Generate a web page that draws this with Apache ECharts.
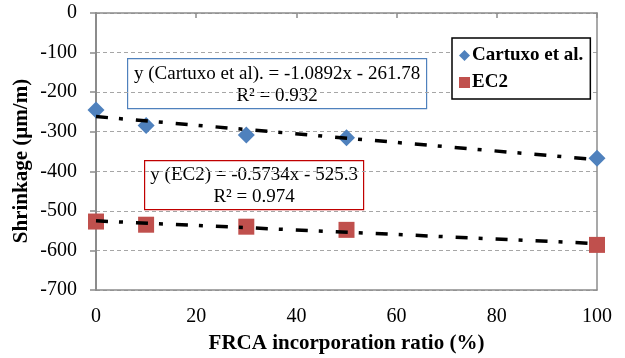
<!DOCTYPE html>
<html>
<head>
<meta charset="utf-8">
<script src="https://cdn.jsdelivr.net/npm/echarts@6/dist/echarts.min.js"></script>
<style>
  html, body { margin: 0; padding: 0; background: #fff; }
  #chart { width: 625px; height: 358px; }
</style>
</head>
<body>
<div id="chart"></div>
<script>
// FRCA incorporation ratio (%)
const ratios = [0, 10, 30, 50, 100];
// Shrinkage (µm/m) per model
const cartuxo = [-245, -284, -308, -315, -367];
const ec2 = [-527, -535, -540, -548, -586];
// Linear fits: [slope, intercept, R²]
const fitCartuxo = [-1.0892, -261.78, 0.932];
const fitEC2 = [-0.5734, -525.3, 0.974];
const xTicks = [0, 20, 40, 60, 80, 100];
const yTicks = [0, -100, -200, -300, -400, -500, -600, -700];

const serif = 'Liberation Serif';
const grey = '#8c8c8c';

function fitLine(fit) {
  const xs = [ratios[0], ratios[ratios.length - 1]];
  return xs.map(x => [x, fit[0] * x + fit[1]]);
}
function eqText(label, fit) {
  const b = fit[1] < 0 ? ' - ' + Math.abs(fit[1]) : ' + ' + fit[1];
  return label + ' = ' + fit[0] + 'x' + b;
}

const trendStyle = {
  color: '#000',
  width: 3.5,
  type: [12, 11, 4, 13],
  cap: 'butt'
};

const chart = echarts.init(document.getElementById('chart'), null, { renderer: 'canvas' });

chart.setOption({
  animation: false,
  backgroundColor: '#fff',
  grid: { left: 96, right: 28, top: 13, bottom: 68, containLabel: false, outerBoundsMode: 'none' },
  xAxis: [
    {
      type: 'value',
      position: 'bottom',
      min: xTicks[0], max: xTicks[xTicks.length - 1], interval: 20,
      axisLine: { show: true, onZero: false, lineStyle: { color: grey, width: 1.5 } },
      axisTick: { show: false },
      splitLine: { show: false },
      axisLabel: { color: '#000', fontFamily: serif, fontSize: 20, margin: 17 },
      name: 'FRCA incorporation ratio (%)',
      nameLocation: 'middle',
      nameGap: 43,
      nameTextStyle: { color: '#000', fontFamily: serif, fontSize: 21, fontWeight: 'bold' }
    },
    {
      type: 'value',
      position: 'top',
      min: xTicks[0], max: xTicks[xTicks.length - 1], interval: 20,
      axisLine: { show: true, onZero: false, lineStyle: { color: grey, width: 1.5 } },
      axisTick: { show: true, inside: true, length: 5, lineStyle: { color: grey, width: 1.5 } },
      axisLabel: { show: false },
      splitLine: { show: false }
    }
  ],
  yAxis: [
    {
      type: 'value',
      min: yTicks[yTicks.length - 1], max: yTicks[0], interval: 100,
      axisLine: { show: true, onZero: false, lineStyle: { color: grey, width: 2 } },
      axisTick: { show: true, length: 6, lineStyle: { color: grey, width: 1.5 } },
      axisLabel: { color: '#000', fontFamily: serif, fontSize: 20, margin: 19 },
      splitLine: { show: true, lineStyle: { color: '#a6a6a6', width: 1, type: [4, 3] } }
    },
    {
      type: 'value',
      position: 'right',
      min: yTicks[yTicks.length - 1], max: yTicks[0], interval: 100,
      axisLine: { show: true, onZero: false, lineStyle: { color: grey, width: 1.5 } },
      axisTick: { show: false },
      axisLabel: { show: false },
      splitLine: { show: false }
    }
  ],
  legend: {
    data: ['Cartuxo et al.', 'EC2'],
    orient: 'vertical',
    left: 452,
    top: 38,
    padding: [8, 7, 7, 7],
    itemGap: 8,
    itemWidth: 11,
    itemHeight: 11,
    backgroundColor: '#fff',
    borderColor: '#000',
    borderWidth: 1.5,
    textStyle: { color: '#000', fontFamily: serif, fontSize: 19, fontWeight: 'bold', padding: [0, 0, 0, -3] }
  },
  series: [
    {
      name: 'Cartuxo et al.',
      type: 'scatter',
      symbol: 'diamond',
      symbolSize: 17,
      itemStyle: { color: '#4f81bd', opacity: 1 },
      data: ratios.map((x, i) => [x, cartuxo[i]]),
      z: 3
    },
    {
      name: 'EC2',
      type: 'scatter',
      symbol: 'rect',
      symbolSize: 16,
      itemStyle: { color: '#c0504d', opacity: 1 },
      data: ratios.map((x, i) => [x, ec2[i]]),
      z: 3
    },
    {
      name: 'trend Cartuxo',
      type: 'line',
      symbol: 'none',
      lineStyle: trendStyle,
      data: fitLine(fitCartuxo),
      z: 4
    },
    {
      name: 'trend EC2',
      type: 'line',
      symbol: 'none',
      lineStyle: trendStyle,
      data: fitLine(fitEC2),
      z: 4
    }
  ],
  graphic: [
    {
      type: 'text',
      rotation: Math.PI / 2,
      x: 22, y: 161,
      style: {
        text: 'Shrinkage (µm/m)',
        fill: '#000',
        font: 'bold 21px "Liberation Serif"',
        align: 'center',
        verticalAlign: 'middle'
      }
    },
    {
      type: 'group',
      left: 127, top: 58,
      z: 10,
      children: [
        {
          type: 'rect',
          shape: { x: 0, y: 0, width: 299, height: 50 },
          style: { fill: '#fff', stroke: '#4f81bd', lineWidth: 1.2 }
        },
        {
          type: 'text',
          x: 149.5, y: 15,
          style: {
            text: eqText('y (Cartuxo et al).', fitCartuxo),
            fill: '#000', font: '19px "Liberation Serif"',
            align: 'center', verticalAlign: 'middle'
          }
        },
        {
          type: 'text',
          x: 149.5, y: 37,
          style: {
            text: 'R² = ' + fitCartuxo[2],
            fill: '#000', font: '19px "Liberation Serif"',
            align: 'center', verticalAlign: 'middle'
          }
        }
      ]
    },
    {
      type: 'group',
      left: 144, top: 160,
      z: 10,
      children: [
        {
          type: 'rect',
          shape: { x: 0, y: 0, width: 219, height: 49 },
          style: { fill: '#fff', stroke: '#c00000', lineWidth: 1.2 }
        },
        {
          type: 'text',
          x: 109.5, y: 14,
          style: {
            text: eqText('y (EC2)', fitEC2),
            fill: '#000', font: '19px "Liberation Serif"',
            align: 'center', verticalAlign: 'middle'
          }
        },
        {
          type: 'text',
          x: 109.5, y: 36,
          style: {
            text: 'R² = ' + fitEC2[2],
            fill: '#000', font: '19px "Liberation Serif"',
            align: 'center', verticalAlign: 'middle'
          }
        }
      ]
    }
  ]
});
</script>
</body>
</html>
